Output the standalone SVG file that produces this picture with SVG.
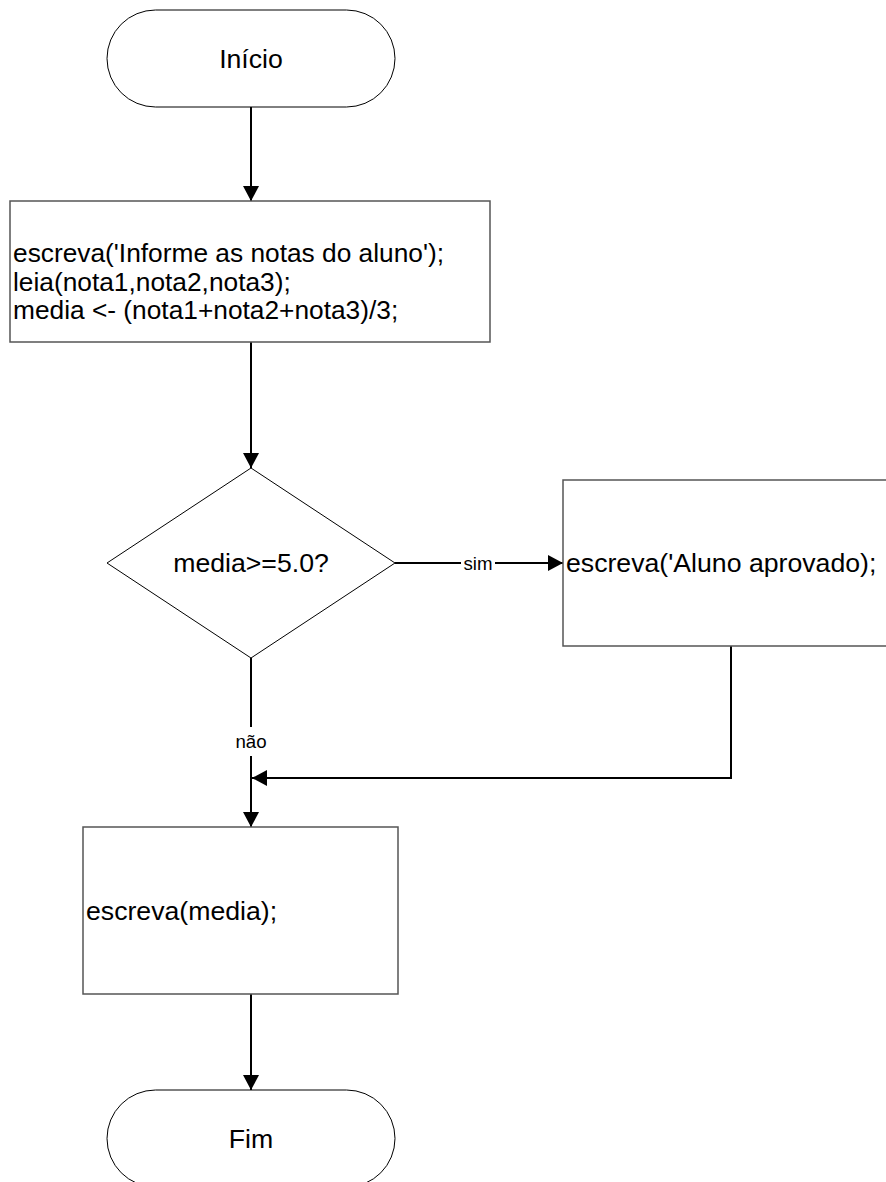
<svg xmlns="http://www.w3.org/2000/svg" width="886" height="1182" viewBox="0 0 886 1182">
<defs>
<style>
.term{fill:#fff;stroke:#000;stroke-width:1}
.proc{fill:#fff;stroke:#555;stroke-width:1.5}
.dec{fill:#fff;stroke:#000;stroke-width:1}
.t{font-family:"Liberation Sans",Arial,sans-serif;font-size:26.67px;fill:#000}
.t2{font-family:"Liberation Sans",Arial,sans-serif;font-size:26.3px;fill:#000}
.lbl{font-family:"Liberation Sans",Arial,sans-serif;font-size:18.67px;fill:#000}
.c{fill:none;stroke:#000;stroke-width:2}
</style>
<marker id="arr" markerUnits="userSpaceOnUse" markerWidth="16" markerHeight="16" refX="15" refY="8" orient="auto">
<path d="M0,0 L15,8 L0,16 Z" fill="#000"/>
</marker>
</defs>
<rect width="886" height="1182" fill="#fff"/>
<g id="connectors">
<path class="c" d="M251,107 V201" marker-end="url(#arr)"/>
<path class="c" d="M251,342 V468" marker-end="url(#arr)"/>
<path class="c" d="M395,563 H461"/>
<path class="c" d="M495,563 H563" marker-end="url(#arr)"/>
<text class="lbl" x="478" y="569.5" text-anchor="middle">sim</text>
<path class="c" d="M251,658 V727"/>
<path class="c" d="M251,756 V827" marker-end="url(#arr)"/>
<text class="lbl" x="251" y="748" text-anchor="middle">não</text>
<path class="c" d="M731,646 V778 H252" marker-end="url(#arr)"/>
<path class="c" d="M251,994 V1090" marker-end="url(#arr)"/>
</g>
<g id="inicio">
<rect class="term" x="107" y="10" width="288" height="97" rx="48.5" ry="48.5"/>
<text class="t" x="251" y="68" text-anchor="middle">Início</text>
</g>
<g id="entrada">
<rect class="proc" x="10" y="201" width="480" height="141"/>
<text class="t2" x="13" y="262">escreva('Informe as notas do aluno');</text>
<text class="t2" x="13" y="290.5">leia(nota1,nota2,nota3);</text>
<text class="t2" x="13" y="319">media &lt;- (nota1+nota2+nota3)/3;</text>
</g>
<g id="decisao">
<polygon class="dec" points="251,468 395,563 251,658 107,563"/>
<text class="t" x="251" y="572" text-anchor="middle">media&gt;=5.0?</text>
</g>
<g id="aprovado">
<rect class="proc" x="563" y="480" width="336" height="166"/>
<text class="t" x="566" y="572">escreva('Aluno aprovado);</text>
</g>
<g id="saida">
<rect class="proc" x="83" y="827" width="315" height="167"/>
<text class="t" x="86" y="920">escreva(media);</text>
</g>
<g id="fim">
<rect class="term" x="107" y="1090" width="288" height="97" rx="48.5" ry="48.5"/>
<text class="t" x="251" y="1148" text-anchor="middle">Fim</text>
</g>
</svg>
